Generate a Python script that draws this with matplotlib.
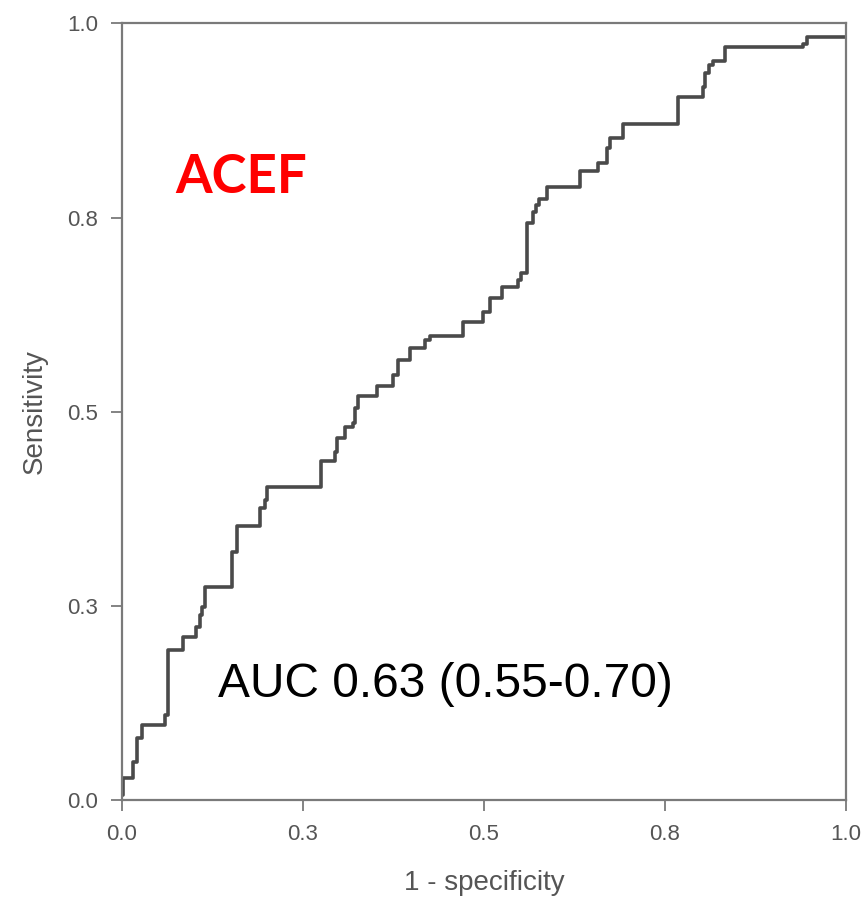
import matplotlib
matplotlib.use("Agg")
import matplotlib.pyplot as plt

# ROC curve vertices (1 - specificity, sensitivity)
fpr = [0.000, 0.001, 0.015, 0.021, 0.028, 0.059, 0.064, 0.084, 0.102, 0.108,
       0.110, 0.115, 0.152, 0.159, 0.191, 0.198, 0.200, 0.275, 0.294, 0.297,
       0.308, 0.319, 0.322, 0.326, 0.352, 0.374, 0.381, 0.398, 0.419, 0.425,
       0.471, 0.499, 0.508, 0.525, 0.547, 0.551, 0.559, 0.568, 0.572, 0.576,
       0.587, 0.633, 0.657, 0.670, 0.674, 0.692, 0.768, 0.802, 0.805, 0.811,
       0.816, 0.833, 0.941, 0.946, 1.000]
tpr = [0.006, 0.028, 0.049, 0.080, 0.097, 0.109, 0.193, 0.210, 0.223, 0.238,
       0.248, 0.274, 0.319, 0.353, 0.376, 0.386, 0.403, 0.436, 0.448, 0.466,
       0.480, 0.486, 0.505, 0.520, 0.533, 0.547, 0.566, 0.582, 0.592, 0.597,
       0.615, 0.628, 0.646, 0.660, 0.669, 0.678, 0.743, 0.757, 0.766, 0.774,
       0.789, 0.810, 0.820, 0.840, 0.853, 0.871, 0.905, 0.918, 0.936, 0.946,
       0.952, 0.969, 0.973, 0.982, 0.982]

tick_pos = [0.0, 0.25, 0.5, 0.75, 1.0]
tick_labels = ["0.0", "0.3", "0.5", "0.8", "1.0"]

narrow = ["Liberation Sans Narrow", "Liberation Sans", "DejaVu Sans"]
gray = "#7a7a7a"

fig = plt.figure(figsize=(8.65, 8.97), dpi=100)
ax = fig.add_axes([0.141, 0.108, 0.837, 0.866])

ax.plot(fpr, tpr, drawstyle="steps-post", color="#4a4a4a", lw=2.6)

ax.set_xlim(0, 1)
ax.set_ylim(0, 1)
ax.set_xticks(tick_pos)
ax.set_xticklabels(tick_labels, family=narrow, fontsize=16, color="#555555")
ax.set_yticks(tick_pos)
ax.set_yticklabels(tick_labels, family=narrow, fontsize=16, color="#555555")
ax.tick_params(direction="out", length=8, width=1.3, color=gray, pad=9)
for sp in ax.spines.values():
    sp.set_color(gray)
    sp.set_linewidth(1.6)

ax.set_xlabel("1 - specificity", family=narrow, fontsize=20, color="#555555", labelpad=18)
ax.set_ylabel("Sensitivity", family=narrow, fontsize=20, color="#555555", labelpad=14)

ax.text(0.073, 0.802, "ACEF", family=["Lato", "DejaVu Sans"], fontweight="bold",
        fontsize=38, color="#ff0000", va="center", ha="left")
ax.text(0.133, 0.149, "AUC 0.63 (0.55-0.70)", family=["Liberation Sans", "DejaVu Sans"],
        fontsize=34.5, color="black", va="center", ha="left")

fig.savefig("out.png", dpi=100)
